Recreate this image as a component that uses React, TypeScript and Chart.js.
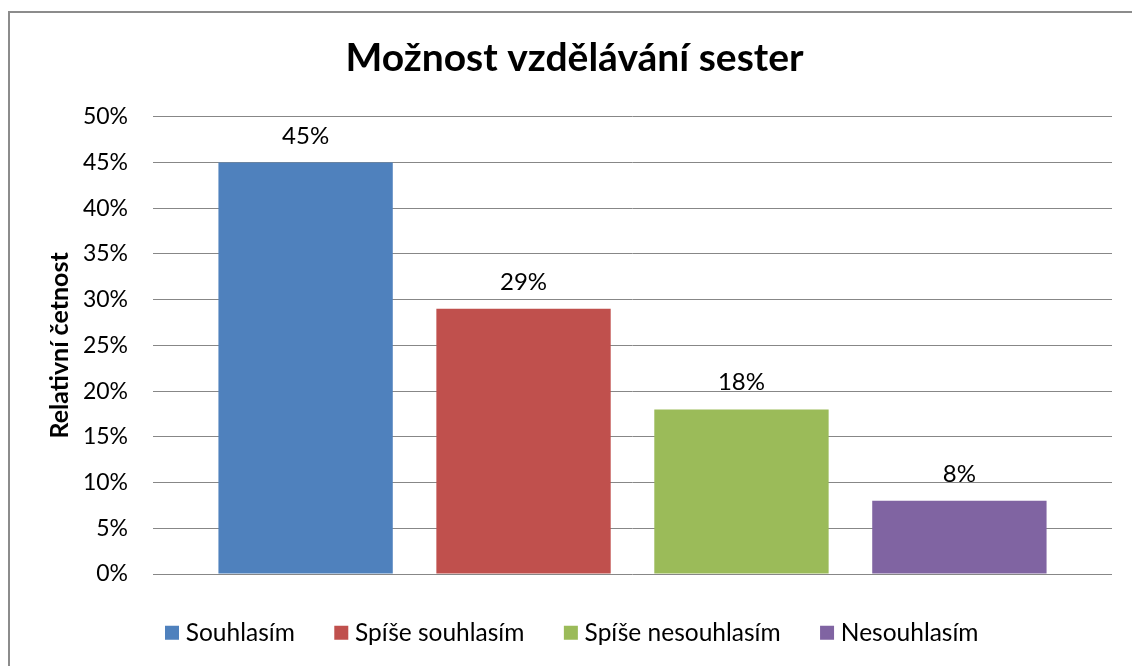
import React, { useEffect, useRef } from "react";
import { Chart, registerables } from "chart.js";

Chart.register(...registerables);

const chartTitle = "Možnost vzdělávání sester";
const yAxisTitle = "Relativní četnost";
const categories = ["Souhlasím", "Spíše souhlasím", "Spíše nesouhlasím", "Nesouhlasím"];
const values = [45, 29, 18, 8];
const colors = ["#4F81BD", "#C0504D", "#9BBB59", "#8064A2"];
const yTicksMax = 50;
const yTicksStep = 5;

const FONT = "Lato";

const frameAndBackground = {
  id: "frameAndBackground",
  beforeDraw(chart: any) {
    const ctx = chart.ctx;
    ctx.save();
    ctx.fillStyle = "#ffffff";
    ctx.fillRect(0, 0, chart.width, chart.height);
    ctx.fillStyle = "#8c8c8c";
    ctx.fillRect(8, 11, 2, chart.height);
    ctx.fillRect(8, 11, chart.width, 2);
    ctx.restore();
  },
};

const valueLabels = {
  id: "valueLabels",
  afterDatasetsDraw(chart: any) {
    const ctx = chart.ctx;
    ctx.save();
    ctx.font = `24px ${FONT}`;
    ctx.fillStyle = "#000";
    ctx.textAlign = "center";
    ctx.textBaseline = "alphabetic";
    chart.data.datasets.forEach((ds: any, i: number) => {
      const meta = chart.getDatasetMeta(i);
      meta.data.forEach((el: any, j: number) => {
        ctx.fillText(`${ds.data[j]}%`, el.x, el.y - 19);
      });
    });
    ctx.restore();
  },
};

export default function App() {
  const ref = useRef<HTMLCanvasElement | null>(null);

  useEffect(() => {
    if (!ref.current) return;
    const chart = new Chart(ref.current, {
      type: "bar",
      data: {
        labels: [""],
        datasets: categories.map((c, i) => ({
          label: c,
          data: [values[i]],
          backgroundColor: colors[i],
          borderWidth: 0,
          categoryPercentage: 0.909,
          barPercentage: 0.8,
        })),
      },
      options: {
        animation: false,
        responsive: true,
        maintainAspectRatio: false,
        layout: { padding: { left: 37, right: 20, top: 0, bottom: 11 } },
        plugins: {
          tooltip: { enabled: false },
          title: {
            display: true,
            text: chartTitle,
            color: "#000",
            font: { family: FONT, size: 39, weight: "bold" },
            padding: { top: 35, bottom: 35 },
          },
          legend: {
            position: "bottom",
            labels: {
              usePointStyle: true,
              pointStyle: "rect",
              boxWidth: 3,
              boxHeight: 14,
              padding: 45,
              color: "#000",
              font: { family: FONT, size: 24.5 },
            },
          },
        },
        scales: {
          x: {
            grid: { display: false },
            border: { display: false },
            ticks: { display: false },
            afterFit: (s: any) => {
              s.height = 1.5;
            },
          },
          y: {
            min: 0,
            max: yTicksMax,
            ticks: {
              stepSize: yTicksStep,
              padding: 25,
              color: "#000",
              font: { family: FONT, size: 23 },
              callback: (v: any) => `${v}%`,
            },
            grid: { color: "#878787", lineWidth: 1, drawTicks: false },
            border: { display: false },
            title: {
              display: true,
              text: yAxisTitle,
              color: "#000",
              font: { family: FONT, size: 25, weight: "bold" },
              padding: { top: 8, bottom: 0 },
            },
            afterFit: (s: any) => {
              s.width = 116;
            },
          },
        },
      },
      plugins: [frameAndBackground, valueLabels],
    });
    return () => chart.destroy();
  }, []);

  return (
    <div style={{ position: "fixed", left: 0, top: 0, width: 1132, height: 666 }}>
      <canvas ref={ref} />
    </div>
  );
}
